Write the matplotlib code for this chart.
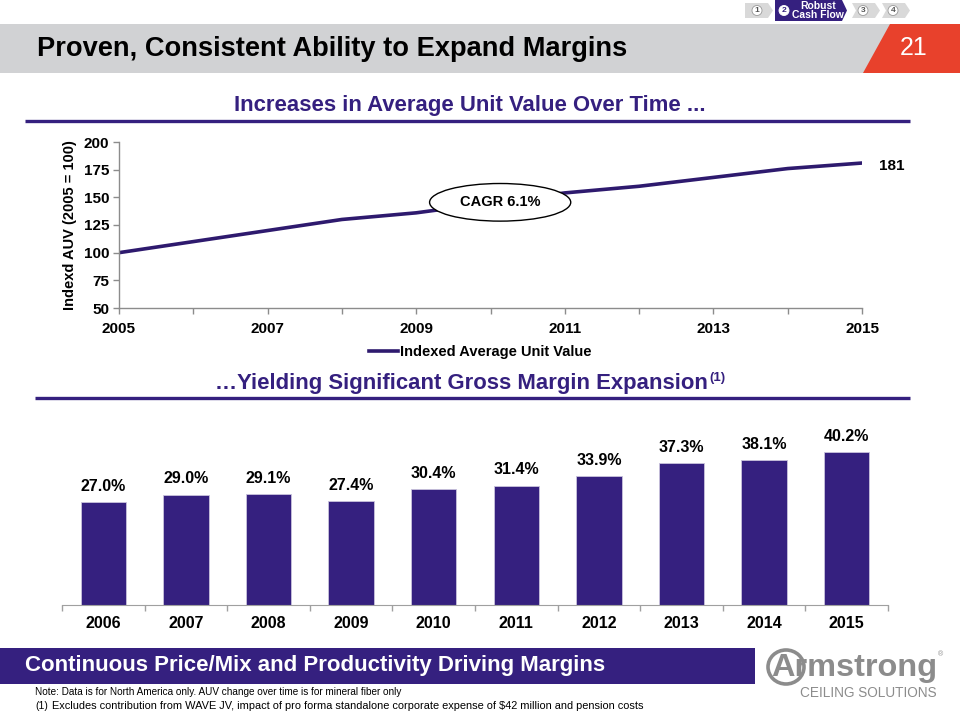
import matplotlib
matplotlib.use("Agg")
import matplotlib.pyplot as plt
from matplotlib.patches import Ellipse, Polygon, Rectangle, Circle

plt.rcParams['font.family'] = ['Liberation Sans', 'DejaVu Sans']

PURPLE = '#35207f'
LINE_PURPLE = '#2e1a6e'
GREY_BAND = '#d1d2d4'
RED = '#e8412c'
LOGO_GREY = '#8c8c8c'

# data
auv_years = [2005, 2006, 2007, 2008, 2009, 2010, 2011, 2012, 2013, 2014, 2015]
auv_index = [100, 110, 120, 130, 136, 145, 154, 160, 168, 176, 181]
auv_label = "Indexed Average Unit Value"
auv_tick_years = [2005, 2007, 2009, 2011, 2013, 2015]
auv_yticks = [50, 75, 100, 125, 150, 175, 200]
cagr_text = "CAGR 6.1%"

margin_years = ["2006", "2007", "2008", "2009", "2010", "2011", "2012", "2013", "2014", "2015"]
gross_margin = [27.0, 29.0, 29.1, 27.4, 30.4, 31.4, 33.9, 37.3, 38.1, 40.2]

W, H = 960, 720
fig = plt.figure(figsize=(W / 100, H / 100), dpi=100)

# overlay in pixel coords for the slide decorations
deco = fig.add_axes([0, 0, 1, 1], zorder=0)
deco.set_xlim(0, W)
deco.set_ylim(H, 0)
deco.axis("off")

to_fit = []  # (text, target width in px)

# header band
deco.add_patch(Rectangle((0, 24), W, 49, color=GREY_BAND, lw=0))
deco.add_patch(Polygon([(890, 24), (W, 24), (W, 73), (863, 73)], closed=True, color=RED, lw=0))
t = deco.text(37, 49, "Proven, Consistent Ability to Expand Margins", fontsize=21, fontweight="bold",
              va="center", ha="left", color="black")
to_fit.append((t, 590))
deco.text(914, 48, "21", fontsize=18, color="white", va="center", ha="center")

# nav chevrons
def chevron(x0, x1, y0, y1, fc, notch):
    ym = (y0 + y1) / 2
    pts = [(x0, y0), (x1, y0), (x1 + 5, ym), (x1, y1), (x0, y1)]
    if notch:
        pts.append((x0 + 4, ym))
    deco.add_patch(Polygon(pts, closed=True, color=fc, lw=0))

chevron(745, 768, 3, 18, "#d9d9d9", False)
chevron(775, 842, 0, 21, PURPLE, False)
chevron(852, 875, 3, 18, "#d9d9d9", True)
chevron(882, 905, 3, 18, "#d9d9d9", True)
for cx, num, tc in [(757, "1", "#555555"), (784, "2", PURPLE), (863, "3", "#555555"), (893, "4", "#555555")]:
    deco.add_patch(Circle((cx, 10.5), 5, color="white", lw=0.6, ec="#999999" if tc != PURPLE else "white"))
    deco.text(cx, 11, num, fontsize=6, fontweight="bold", color=tc, ha="center", va="center")
deco.text(818, 10.5, "Robust\nCash Flow", fontsize=7.5, fontweight="bold", color="white",
          ha="center", va="center", linespacing=0.85)

# section headers
t = deco.text(470, 105, "Increases in Average Unit Value Over Time ...", fontsize=16, fontweight="bold",
              color=PURPLE, ha="center", va="center")
to_fit.append((t, 470))
deco.plot([25, 910], [121, 121], color=PURPLE, lw=2.4, solid_capstyle="butt")

sub2 = deco.text(215, 383, "\u2026Yielding Significant Gross Margin Expansion", fontsize=16,
                 fontweight="bold", color=PURPLE, ha="left", va="center")
to_fit.append((sub2, 491))
deco.plot([35, 910], [398, 398], color=PURPLE, lw=2.4, solid_capstyle="butt")

# footer band and notes
deco.add_patch(Rectangle((0, 648), 755, 36, color=PURPLE, lw=0))
t = deco.text(25, 666, "Continuous Price/Mix and Productivity Driving Margins", fontsize=16,
              fontweight="bold", color="white", ha="left", va="center")
to_fit.append((t, 582))
t = deco.text(35, 692, "Note: Data is for North America only. AUV change over time is for mineral fiber only",
              fontsize=7.5, ha="left", va="center")
to_fit.append((t, 367))
deco.text(35, 706, "(1)", fontsize=7.5, ha="left", va="center")
t = deco.text(52, 706, "Excludes contribution from WAVE JV, impact of pro forma standalone corporate "
              "expense of $42 million and pension costs", fontsize=7.5, ha="left", va="center")
to_fit.append((t, 585))

# logo
deco.add_patch(Ellipse((786, 667), 36, 34, fill=False, ec=LOGO_GREY, lw=2.6))
t = deco.text(771, 668, "Armstrong", fontsize=25, color=LOGO_GREY, ha="left", va="center",
              fontweight="bold")
to_fit.append((t, 166))
deco.text(938, 655, "\u00ae", fontsize=5, color=LOGO_GREY, ha="left", va="center")
t = deco.text(800, 693, "CEILING SOLUTIONS", fontsize=10.5, color=LOGO_GREY, ha="left", va="center")
to_fit.append((t, 138))

# line chart
ax1 = fig.add_axes([119 / W, 1 - 308 / H, 743 / W, 166 / H], zorder=2)
ax1.patch.set_alpha(0)
ax1.plot(auv_years, auv_index, color=LINE_PURPLE, lw=2.6, label=auv_label)
ax1.set_xlim(auv_years[0], auv_years[-1])
ax1.set_ylim(auv_yticks[0], auv_yticks[-1])
ax1.set_yticks(auv_yticks)
ax1.set_xticks(auv_tick_years)
ax1.set_xticks(auv_years, minor=True)
for s in ["top", "right"]:
    ax1.spines[s].set_visible(False)
for s in ["left", "bottom"]:
    ax1.spines[s].set_color("#8c8c8c")
    ax1.spines[s].set_linewidth(1)
ax1.tick_params(axis="both", which="both", colors="#8c8c8c", labelcolor="black", length=4, width=1)
ax1.tick_params(axis="x", which="major", labelsize=11, pad=6)
ax1.tick_params(axis="y", labelsize=11, pad=3)
for lbl in ax1.get_xticklabels() + ax1.get_yticklabels():
    lbl.set_fontweight("bold")
ax1.set_ylabel("Indexd AUV (2005 = 100)", fontsize=10.5, fontweight="bold", labelpad=5)
ax1.annotate(str(auv_index[-1]), (auv_years[-1], auv_index[-1]), xytext=(12, -2),
             textcoords="offset points", fontsize=11, fontweight="bold", va="center", ha="left")
ax1.add_patch(Ellipse((2010.13, 145.5), 1.9, 34, facecolor="white", edgecolor="black", lw=1,
                      zorder=5, clip_on=False))
ax1.text(2010.13, 145.5, cagr_text, fontsize=10.5, fontweight="bold", ha="center", va="center", zorder=6)
ax1.legend(loc="center", bbox_to_anchor=((480 - 119) / 743, (308 - 352) / 166), frameon=False,
           handlelength=2.0, handletextpad=0.1, prop={"weight": "bold", "size": 10.5})

# bar chart
ax2 = fig.add_axes([62 / W, 1 - 605 / H, 826 / W, 171 / H], zorder=2)
ax2.patch.set_alpha(0)
xpos = list(range(len(margin_years)))
bars = ax2.bar(xpos, gross_margin, width=0.55, color=PURPLE, edgecolor="#c9c3dd", lw=0.6)
ax2.set_xlim(-0.5, len(margin_years) - 0.5)
ax2.set_ylim(0, 45)
ax2.set_xticks(xpos)
ax2.set_xticklabels(margin_years, fontsize=11.5, fontweight="bold")
ax2.set_xticks([i - 0.5 for i in range(len(margin_years) + 1)], minor=True)
ax2.tick_params(axis="x", which="major", length=0, pad=8)
ax2.tick_params(axis="x", which="minor", length=4, color="#a0a0a0", width=1)
ax2.set_yticks([])
for s in ["top", "right", "left"]:
    ax2.spines[s].set_visible(False)
ax2.spines["bottom"].set_color("#a0a0a0")
for b, v in zip(bars, gross_margin):
    ax2.annotate(f"{v:.1f}%", (b.get_x() + b.get_width() / 2, v), xytext=(0, 6),
                 textcoords="offset points", ha="center", va="bottom", fontsize=11.5, fontweight="bold")

# scale slide texts to the widths they take in the original
fig.canvas.draw()
for txt, target in to_fit:
    w = txt.get_window_extent().width
    txt.set_fontsize(txt.get_fontsize() * target / w)
fig.canvas.draw()

# superscript after the second header
x_end = sub2.get_window_extent().x1
deco.text(x_end + 1, 378, "(1)", fontsize=9.5, fontweight="bold", color=PURPLE, ha="left", va="center")

fig.savefig("out.png", dpi=100)
